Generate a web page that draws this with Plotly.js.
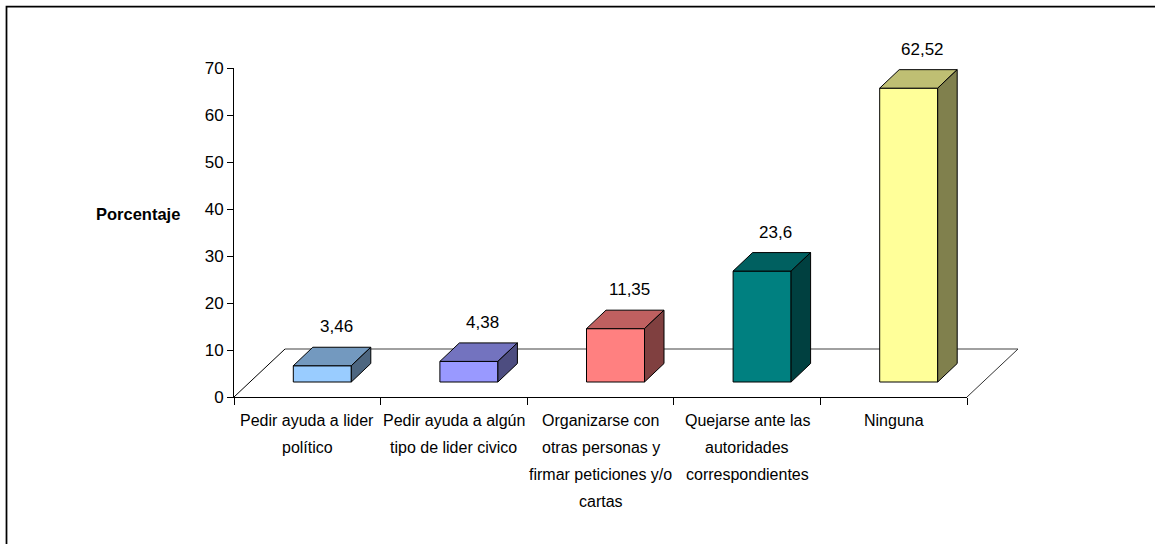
<!DOCTYPE html>
<html>
<head>
<meta charset="utf-8">
<script src="https://cdn.plot.ly/plotly-3.0.1.min.js"></script>
<style>
  html, body { margin: 0; padding: 0; background: #fff; }
  #chart { width: 1155px; height: 544px; }
</style>
</head>
<body>
<div id="chart"></div>
<script>
// data ------------------------------------------------------------------
var categories = [
    "Pedir ayuda a lider<br>político",
    "Pedir ayuda a algún<br>tipo de lider civico",
    "Organizarse con<br>otras personas y<br>firmar peticiones y/o<br>cartas",
    "Quejarse ante las<br>autoridades<br>correspondientes",
    "Ninguna"
];
var values = [3.46, 4.38, 11.35, 23.6, 62.52];
var yTicks = [0, 10, 20, 30, 40, 50, 60, 70];
var frontColors = ["#99CCFF", "#9999FF", "#FF8080", "#008080", "#FFFF99"];
var topColors   = ["#7399BF", "#7373BF", "#BF6060", "#006060", "#BFBF73"];
var sideColors  = ["#4D6680", "#4D4D80", "#804040", "#004040", "#80804D"];

// layout (pixels / 3d look) -------------------------------------------
var W = 1155, H = 544;
var M = {l: 234, r: 188, t: 68, b: 147};
var X_MIN = -0.5, X_MAX = categories.length - 0.5, Y_MAX = 70;
var plotW = W - M.l - M.r, plotH = H - M.t - M.b;
var catPx = plotW / (X_MAX - X_MIN), unitPx = plotH / Y_MAX;

var BAR_W   = 58 / catPx;
var BASE_DX = 15 / catPx,   BASE_DY = 15 / unitPx;
var DEP_DX  = 19.5 / catPx, DEP_DY  = 18.5 / unitPx;
var FLOOR_DX = 51 / catPx,  FLOOR_DY = 48 / unitPx;

var FONT = '"Liberation Sans", Arial, sans-serif';

// data coords -> paper coords (floor lines go past the plot area)
function px(x){ return (x - X_MIN) / (X_MAX - X_MIN); }
function py(y){ return y / Y_MAX; }

function poly(xs, ys, color){
    return {
        type: 'scatter', mode: 'lines', x: xs, y: ys,
        fill: 'toself', fillcolor: color,
        line: {color: '#000', width: 1},
        hoverinfo: 'skip', showlegend: false
    };
}

// bars --------------------------------------------------------------------
var traces = [];
var annotations = [];
for(let i=0; i<values.length; i++){
    let v = values[i];
    let l = i + BASE_DX - BAR_W/2, r = i + BASE_DX + BAR_W/2;
    let b = BASE_DY, t = BASE_DY + v;
    // front
    traces.push(poly([l, r, r, l, l], [b, b, t, t, b], frontColors[i]));
    // top
    traces.push(poly([l, r, r + DEP_DX, l + DEP_DX, l],
                     [t, t, t + DEP_DY, t + DEP_DY, t], topColors[i]));
    // side
    traces.push(poly([r, r + DEP_DX, r + DEP_DX, r, r],
                     [b, b + DEP_DY, t + DEP_DY, t, b], sideColors[i]));
    // value label
    annotations.push({
        x: i + BASE_DX + DEP_DX/2, y: t + DEP_DY, xref: 'x', yref: 'y',
        text: String(v).replace('.', ','), showarrow: false,
        xanchor: 'center', yanchor: 'bottom', xshift: 4, yshift: 9,
        font: {family: FONT, size: 17, color: '#000'}
    });
    // category label, one annotation per line for the wide line spacing
    categories[i].split('<br>').forEach(function(line, k){
        annotations.push({
            x: i, y: 0, xref: 'x', yref: 'y',
            text: line, showarrow: false,
            xanchor: 'center', yanchor: 'middle', yshift: -23 - 27*k,
            font: {family: FONT, size: 16, color: '#000'}
        });
    });
}

// y title
annotations.push({
    x: 0, xref: 'paper', y: 39, yref: 'y', xanchor: 'right', yanchor: 'middle',
    xshift: -52, text: '<b>Porcentaje</b>', showarrow: false,
    font: {family: FONT, size: 16.5, color: '#000'}
});

// floor + outer frame ------------------------------------------------------
var shapes = [
    {type: 'line', xref: 'paper', yref: 'paper', layer: 'below',
     x0: px(X_MIN), y0: py(0), x1: px(X_MIN + FLOOR_DX), y1: py(FLOOR_DY),
     line: {color: '#000', width: 1}},
    {type: 'line', xref: 'paper', yref: 'paper', layer: 'below',
     x0: px(X_MIN + FLOOR_DX), y0: py(FLOOR_DY), x1: px(X_MAX + FLOOR_DX), y1: py(FLOOR_DY),
     line: {color: '#808080', width: 1.5}},
    {type: 'line', xref: 'paper', yref: 'paper', layer: 'below',
     x0: px(X_MAX + FLOOR_DX), y0: py(FLOOR_DY), x1: px(X_MAX), y1: py(0),
     line: {color: '#333', width: 1}},
    {type: 'rect', xref: 'paper', yref: 'paper',
     x0: (6.5 - M.l) / plotW, x1: 1.5,
     y0: -0.6, y1: (H - M.b - 6.5) / plotH,
     line: {color: '#000', width: 1.75}, fillcolor: 'rgba(0,0,0,0)'}
];

var boundaries = [];
for(let i=0; i<=categories.length; i++) boundaries.push(X_MIN + i);

var layout = {
    width: W, height: H,
    margin: M,
    paper_bgcolor: '#fff',
    plot_bgcolor: 'rgba(0,0,0,0)',
    showlegend: false,
    xaxis: {
        range: [X_MIN, X_MAX], showgrid: false, zeroline: false,
        showline: true, linecolor: '#000', linewidth: 1,
        ticks: 'outside', ticklen: 7, tickcolor: '#000',
        tickvals: boundaries, ticktext: boundaries.map(function(){ return ''; }),
        fixedrange: true
    },
    yaxis: {
        range: [0, Y_MAX], showgrid: false, zeroline: false,
        showline: true, linecolor: '#000', linewidth: 1,
        ticks: 'outside', ticklen: 6, tickcolor: '#000',
        tickvals: yTicks, ticklabelstandoff: 0,
        tickfont: {family: FONT, size: 17, color: '#000'},
        fixedrange: true
    },
    shapes: shapes,
    annotations: annotations
};

Plotly.newPlot('chart', traces, layout, {displayModeBar: false, staticPlot: true});
</script>
</body>
</html>
